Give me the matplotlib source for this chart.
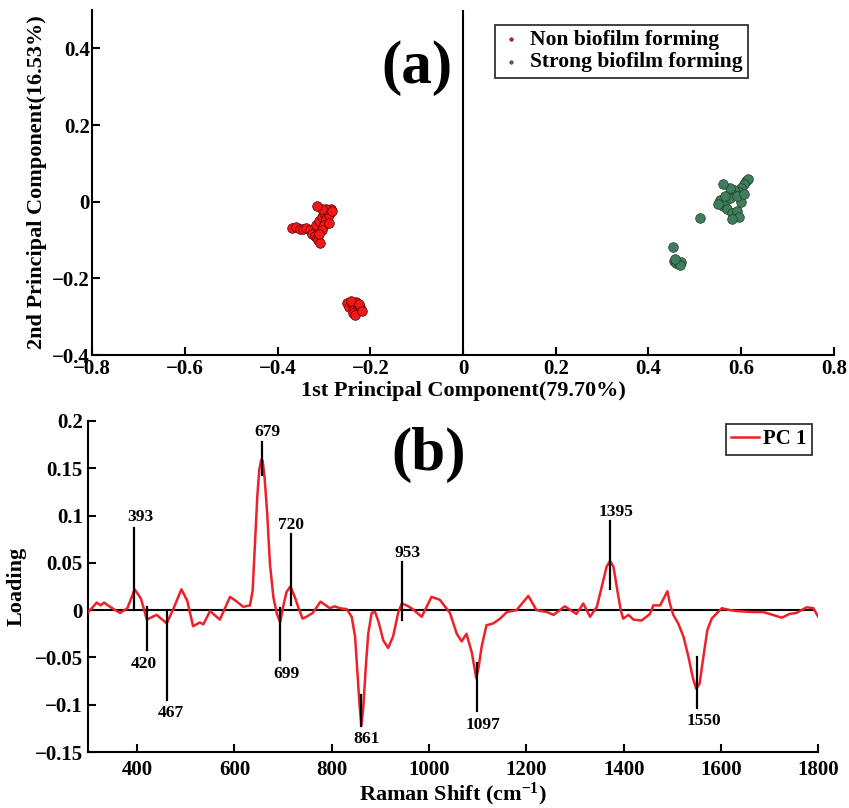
import numpy as np
import matplotlib
matplotlib.use("Agg")
from matplotlib import pyplot as plt

plt.rcParams['font.family'] = ['Liberation Serif', 'DejaVu Serif']
plt.rcParams['font.weight'] = 'bold'
plt.rcParams['mathtext.fontset'] = 'custom'
plt.rcParams['mathtext.rm'] = 'Liberation Serif:bold'
plt.rcParams['mathtext.it'] = 'Liberation Serif:bold'
plt.rcParams['mathtext.bf'] = 'Liberation Serif:bold'

# PCA scores (a)
non_x = [-0.368, -0.360, -0.352, -0.345, -0.338, -0.330, -0.325, -0.320, -0.315, -0.312,
         -0.308, -0.318, -0.310, -0.305, -0.300, -0.295, -0.290, -0.285, -0.295, -0.305,
         -0.315, -0.300, -0.305, -0.290, -0.283, -0.310,
         -0.250, -0.245, -0.240, -0.235, -0.230, -0.228, -0.222, -0.238, -0.242, -0.225,
         -0.232, -0.218]
non_y = [-0.068, -0.065, -0.070, -0.072, -0.068, -0.075, -0.085, -0.090, -0.095, -0.100,
         -0.108, -0.060, -0.050, -0.040, -0.030, -0.045, -0.035, -0.020, -0.020, -0.018,
         -0.010, -0.060, -0.075, -0.055, -0.025, -0.085,
         -0.265, -0.275, -0.268, -0.280, -0.262, -0.285, -0.275, -0.290, -0.258, -0.268,
         -0.295, -0.285]
str_x = [0.610, 0.615, 0.605, 0.600, 0.595, 0.585, 0.580, 0.575, 0.560, 0.555, 0.560,
         0.565, 0.570, 0.575, 0.580, 0.590, 0.595, 0.580, 0.550, 0.565, 0.600, 0.590,
         0.605, 0.512, 0.452, 0.455, 0.460, 0.465, 0.470, 0.468, 0.458]
str_y = [0.055, 0.060, 0.045, 0.035, 0.025, 0.030, 0.020, 0.035, 0.045, 0.005, -0.010,
         0.000, -0.020, 0.010, -0.030, -0.025, -0.040, -0.045, -0.005, 0.015, 0.000, 0.015,
         0.020, -0.042, -0.117, -0.155, -0.160, -0.162, -0.158, -0.166, -0.150]

# PC1 loading (b)
shift = [300, 317, 325, 332, 340, 355, 365, 380, 395, 408, 420, 440, 461, 475, 491, 503,
         515, 529, 536, 550, 570, 591, 605, 618, 632, 637.5, 642, 647, 651, 655, 658, 662,
         667, 673, 680, 687, 694, 700, 707, 715, 724, 731, 740, 748, 761, 777, 796, 806,
         817, 831, 841, 848, 853, 857, 861, 865, 870, 875, 882, 889, 896, 906, 916, 926,
         937, 944, 954, 964, 985, 1005, 1022, 1043, 1057, 1067, 1077, 1088, 1097, 1102,
         1108, 1118, 1132, 1146, 1160, 1180, 1204, 1221, 1242, 1256, 1279, 1303, 1317,
         1331, 1345, 1355, 1365, 1372, 1379, 1387, 1394, 1399, 1410, 1420, 1437, 1454,
         1461, 1475, 1490, 1495, 1502, 1512, 1523, 1533, 1542, 1549, 1556, 1564, 1572,
         1581, 1591, 1602, 1619, 1632, 1666, 1687, 1700, 1725, 1741, 1755, 1776, 1790, 1800]
loading = [-0.002, 0.008, 0.005, 0.008, 0.005, 0.000, -0.003, 0.002, 0.022, 0.012,
           -0.010, -0.005, -0.014, 0.002, 0.022, 0.010, -0.017, -0.013, -0.015, -0.001,
           -0.010, 0.014, 0.009, 0.0035, 0.005, 0.021, 0.067, 0.120, 0.148, 0.159, 0.158, 0.140,
           0.105, 0.049, 0.014, -0.0035, -0.013, 0.0035, 0.019, 0.025, 0.014, 0.0035,
           -0.009, -0.007, -0.003, 0.009, 0.002, 0.004, 0.002, 0.001, -0.007, -0.028,
           -0.067, -0.099, -0.122, -0.102, -0.060, -0.025, -0.003, -0.002, -0.012, -0.032,
           -0.040, -0.028, -0.002, 0.007, 0.005, 0.002, -0.007, 0.014, 0.011, -0.003,
           -0.025, -0.033, -0.025, -0.045, -0.072, -0.060, -0.039, -0.016, -0.014, -0.009,
           -0.002, 0.000, 0.015, 0.000, -0.002, -0.005, 0.004, -0.004, 0.007, -0.007,
           0.0035, 0.025, 0.046, 0.052, 0.046, 0.021, 0.000, -0.009, -0.005, -0.010,
           -0.011, -0.004, 0.005, 0.005, 0.020, 0.007, -0.005, -0.014, -0.028, -0.049,
           -0.071, -0.083, -0.078, -0.049, -0.021, -0.009, -0.0035, 0.002, 0.000, -0.001,
           -0.002, -0.002, -0.004, -0.008, -0.004, -0.003, 0.003, 0.002, -0.007]

# peak marks: label, line x, line y0, line y1, text x, text y
peak_lbl = ['393', '420', '467', '679', '699', '720', '861', '953', '1097', '1395', '1550']
peak_x = [394, 420, 461, 656, 694, 716, 860, 944, 1098, 1372, 1551]
peak_y0 = [0.0, 0.003, -0.002, 0.143, 0.002, 0.005, -0.090, -0.010, -0.056, 0.022, -0.050]
peak_y1 = [0.087, -0.042, -0.095, 0.178, -0.053, 0.080, -0.123, 0.051, -0.107, 0.094, -0.104]
lbl_x = [406, 414, 469, 668, 707, 717, 872, 955, 1111, 1384, 1565]
lbl_y = [0.098, -0.057, -0.109, 0.188, -0.067, 0.090, -0.136, 0.060, -0.121, 0.104, -0.117]

fig = plt.figure(figsize=(8.49, 8.08), dpi=100)

#top panel
ax1 = fig.add_axes([0.1084, 0.5606, 0.8739, 0.427])
ax1.scatter(non_x, non_y, s=48, c='#f01818', edgecolors='#5a0000', linewidths=0.5,
            label='Non biofilm forming', zorder=3)
ax1.scatter(str_x, str_y, s=48, c='#3f7d5c', edgecolors='#1e3a2a', linewidths=0.5,
            label='Strong biofilm forming', zorder=3)
ax1.plot([0, 0], [-0.4, 0.5], color='black', lw=1.5)
ax1.set_xlim(-0.8, 0.8)
ax1.set_ylim(-0.4, 0.5)
ax1.set_xticks([-0.8, -0.6, -0.4, -0.2, 0, 0.2, 0.4, 0.6, 0.8])
ax1.set_xticklabels(['\u22120.8', '\u22120.6', '\u22120.4', '\u22120.2', '0', '0.2', '0.4', '0.6', '0.8'])
ax1.set_yticks([-0.4, -0.2, 0, 0.2, 0.4])
ax1.set_yticklabels(['\u22120.4', '\u22120.2', '0', '0.2', '0.4'])
ax1.set_xlabel('1st Principal Component(79.70%)', fontsize=16, fontweight='bold', labelpad=1)
ax1.set_ylabel('2nd Principal Component(16.53%)', fontsize=16, fontweight='bold', labelpad=4)
ax1.text(-0.1, 0.349, '(a)', fontsize=44, fontweight='bold', ha='center', va='center')
leg1 = ax1.legend(loc='upper left', bbox_to_anchor=(0.543, 0.958), borderaxespad=0,
                  markerscale=0.35, fontsize=15.5, frameon=True, fancybox=False,
                  edgecolor='black', handletextpad=0.4, borderpad=0.25, labelspacing=0.1,
                  handlelength=1.0)
leg1.get_frame().set_linewidth(1.3)

#bottom panel
ax2 = fig.add_axes([0.1042, 0.0693, 0.8596, 0.4097])
ax2.plot(shift, loading, color='#ee2028', lw=1.8, label='PC 1', zorder=3)
ax2.plot([300, 1790], [0, 0], color='black', lw=1.5, zorder=2)
for i in range(len(peak_lbl)):
    ax2.plot([peak_x[i], peak_x[i]], [peak_y0[i], peak_y1[i]], color='black', lw=1.6, zorder=4)
    ax2.text(lbl_x[i], lbl_y[i], peak_lbl[i], fontsize=12.5, fontweight='bold',
             ha='center', va='center')
ax2.set_xlim(300, 1800)
ax2.set_ylim(-0.15, 0.2)
ax2.set_xticks([400, 600, 800, 1000, 1200, 1400, 1600, 1800])
ax2.set_yticks([-0.15, -0.1, -0.05, 0, 0.05, 0.1, 0.15, 0.2])
ax2.set_yticklabels(['\u22120.15', '\u22120.1', '\u22120.05', '0', '0.05', '0.1', '0.15', '0.2'])
ax2.set_xlabel('Raman Shift (cm$^{-1}$)', fontsize=16, fontweight='bold', labelpad=0)
ax2.set_ylabel('Loading', fontsize=16, fontweight='bold', labelpad=6)
ax2.text(1000, 0.164, '(b)', fontsize=44, fontweight='bold', ha='center', va='center')
leg2 = ax2.legend(loc='upper right', bbox_to_anchor=(0.991, 0.99), borderaxespad=0,
                  fontsize=15, frameon=True, fancybox=False, edgecolor='black',
                  handlelength=1.35, handletextpad=0.2, borderpad=0.25)
leg2.get_frame().set_linewidth(1.3)

for ax in (ax1, ax2):
    ax.spines['top'].set_visible(False)
    ax.spines['right'].set_visible(False)
    ax.spines['left'].set_linewidth(1.5)
    ax.spines['bottom'].set_linewidth(1.5)
    ax.tick_params(direction='in', length=6, width=1.5, labelsize=15)
    for t in ax.get_xticklabels() + ax.get_yticklabels():
        t.set_fontweight('bold')
ax1.tick_params(axis='y', pad=1.5)
ax1.tick_params(axis='x', pad=3)
ax2.tick_params(axis='x', pad=6)
ax2.tick_params(axis='y', pad=4)

fig.savefig('out.png', dpi=100)
